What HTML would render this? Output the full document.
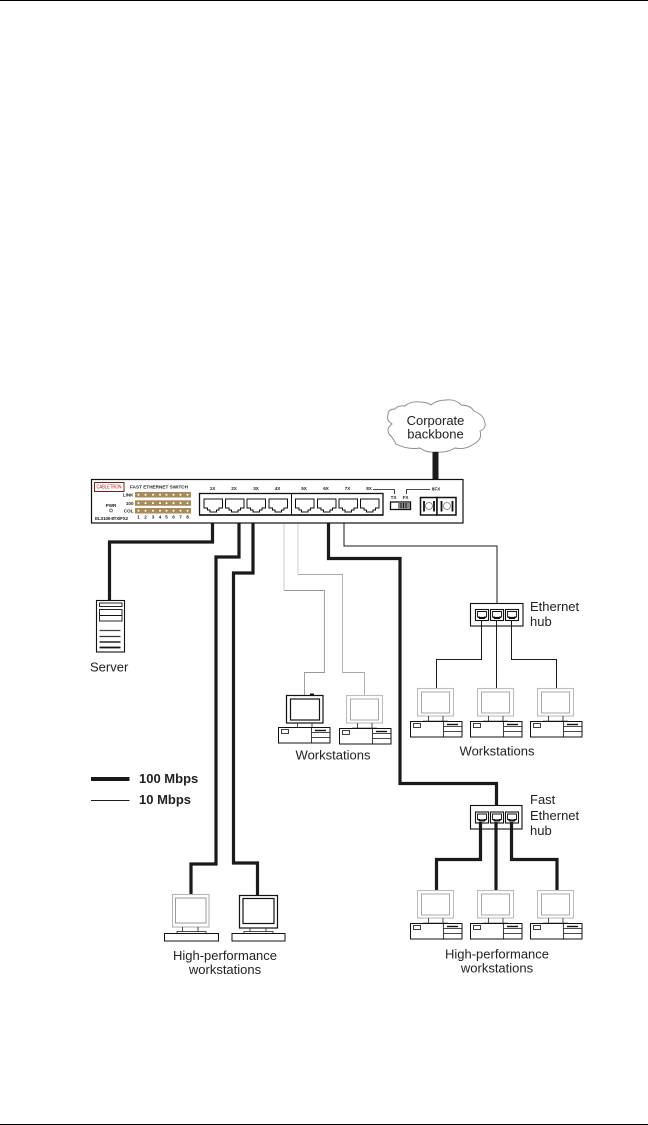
<!DOCTYPE html>
<html>
<head>
<meta charset="utf-8">
<style>
html,body{margin:0;padding:0;background:#fff;width:648px;height:1125px;overflow:hidden}
svg{display:block}
text{font-family:"Liberation Sans",sans-serif;fill:#222}
.l{font-size:13px}
.m{text-anchor:middle}
.t{font-size:4.6px;font-weight:bold;fill:#222}
.c{fill:none;stroke:#1a1a1a;stroke-width:3.2}
.n{fill:none;stroke:#1a1a1a;stroke-width:1}
</style>
</head>
<body>
<svg width="648" height="1125" viewBox="0 0 648 1125" xmlns="http://www.w3.org/2000/svg">
<defs>
  <g id="pc">
    <rect x="0.5" y="0.5" width="51.5" height="15.5" fill="#fff" stroke="#111" stroke-width="1"/>
    <path d="M33.5 0.5V16M33.5 10.5H52M33.5 5.5H52" fill="none" stroke="#111" stroke-width="0.8"/>
    <path d="M37 3.5H48" stroke="#111" stroke-width="1.4"/>
    <rect x="3.5" y="2.5" width="7" height="4" fill="#fff" stroke="#111" stroke-width="0.8"/>
  </g>
  <g id="stand">
    <path d="M11.5 28V33M26 28V33" stroke="#222" stroke-width="0.8"/>
    <path d="M6 33.5H31" stroke="#111" stroke-width="1.5"/>
  </g>
  <g id="wsG">
    <rect x="0.5" y="0.5" width="36" height="27.5" fill="#fff" stroke="#bdbdbd" stroke-width="1.1"/>
    <rect x="4.5" y="4" width="28" height="21" fill="#fff" stroke="#a8a8a8" stroke-width="1"/>
    <use href="#stand"/>
    <use href="#pc" x="-7" y="33"/>
  </g>
  <g id="hpG">
    <rect x="0.5" y="0.5" width="36.5" height="32.5" fill="#fff" stroke="#b5b5b5" stroke-width="1.1"/>
    <rect x="3.5" y="4" width="30.5" height="25" fill="#fff" stroke="#9a9a9a" stroke-width="1"/>
    <path d="M10.5 33V38M26 33V38" stroke="#222" stroke-width="0.8"/>
    <rect x="5" y="37.5" width="29" height="2" fill="#fff" stroke="#222" stroke-width="0.8"/>
    <rect x="-7.5" y="39.5" width="54" height="7.5" fill="#fff" stroke="#111" stroke-width="1"/>
  </g>
  <path id="rj" d="M0.5 0.5H19V9.5H15.5V11.5H13V13.5H6.5V11.5H4V9.5H0.5Z" fill="#fff" stroke="#111" stroke-width="1"/>
  <g id="hp">
    <rect x="0.5" y="0.5" width="13" height="11" fill="#fff" stroke="#111" stroke-width="1.1"/>
    <path d="M2.5 2.5H11.5V8H9.5V9.5H4.5V8H2.5Z" fill="#fff" stroke="#111" stroke-width="0.9"/>
    <path d="M3 8.5H11" stroke="#111" stroke-width="1.2"/>
  </g>
  <g id="strip">
    <rect x="135" y="0" width="56" height="5.5" fill="#a98a58"/>
    <g fill="#fff">
      <circle cx="138.5" cy="2.8" r="1"/><circle cx="145.5" cy="2.8" r="1"/><circle cx="153" cy="2.8" r="1"/><circle cx="160" cy="2.8" r="1"/><circle cx="166.5" cy="2.8" r="1"/><circle cx="173.5" cy="2.8" r="1"/><circle cx="180.5" cy="2.8" r="1"/><circle cx="187.5" cy="2.8" r="1"/>
    </g>
  </g>
</defs>

<rect x="0" y="0" width="648" height="1" fill="#000"/>
<rect x="0" y="1124" width="648" height="1" fill="#000"/>

<!-- cloud -->
<path d="M388 415Q388 409 395 409Q398 405 405 406Q410 401 420 402Q427 402 431 405Q437 400 446 400Q456 399 461 405Q470 405 474 411Q484 415 485 423Q486 429 480 431Q483 440 472 445Q465 450 455 448Q447 453 436 452Q426 453 420 448Q408 450 396 444Q393 438 389 434Q386 428 392 424Q386 420 388 415Z" fill="#fff" stroke="#888" stroke-width="0.9"/>
<text class="l m" x="435.5" y="425">Corporate</text>
<text class="l m" x="435.5" y="438.5">backbone</text>
<rect x="432.5" y="452" width="6" height="27" fill="#1a1a1a"/>

<!-- cables -->
<path class="c" d="M212.5 523V542H109.500V600"/>
<path class="c" d="M239 523V557H216V864H191V894"/>
<path class="c" d="M253 523V573H233.500V863H257.500V895"/>
<path class="c" d="M328.500 523V558.500H400V783.500H496.500V805"/>
<path class="n" d="M344 523V546H497V603"/>
<path d="M284 523V590" fill="none" stroke="#ddd" stroke-width="1.5"/>
<path d="M298 523V574" fill="none" stroke="#ddd" stroke-width="1.5"/>
<path d="M284 590.500H324.500V672.500H304.500V695" fill="none" stroke="#999" stroke-width="0.9"/>
<path d="M298 574.500H342.500V672.500H364.500V695" fill="none" stroke="#aaa" stroke-width="0.9"/>

<!-- switch -->
<rect x="91.500" y="479.500" width="371.500" height="43.500" fill="#fff" stroke="#111" stroke-width="1.2"/>
<rect x="94.500" y="482.500" width="29.500" height="9" fill="#fff" stroke="#7a1f1f" stroke-width="1"/>
<text x="109" y="488.500" text-anchor="middle" font-size="5.500" style="fill:#b02020" textLength="25" lengthAdjust="spacingAndGlyphs">CABLETRON</text>
<text class="t" x="130" y="488.500" textLength="58" lengthAdjust="spacing">FAST ETHERNET SWITCH</text>
<text class="t" x="133.500" y="496.500" text-anchor="end">LINK</text>
<text class="t" x="133.500" y="504.800" text-anchor="end">100</text>
<text class="t" x="133.500" y="512.500" text-anchor="end">COL</text>
<use href="#strip" y="492"/>
<use href="#strip" y="500.300"/>
<use href="#strip" y="508"/>
<g class="t" text-anchor="middle">
<text class="t" x="138.500" y="518.500" text-anchor="middle">1</text><text class="t" x="145.500" y="518.500" text-anchor="middle">2</text><text class="t" x="153" y="518.500" text-anchor="middle">3</text><text class="t" x="160" y="518.500" text-anchor="middle">4</text><text class="t" x="166.500" y="518.500" text-anchor="middle">5</text><text class="t" x="173.500" y="518.500" text-anchor="middle">6</text><text class="t" x="180.500" y="518.500" text-anchor="middle">7</text><text class="t" x="187.500" y="518.500" text-anchor="middle">8</text>
</g>
<text class="t" x="111" y="507" text-anchor="middle">PWR</text>
<circle cx="111" cy="510.500" r="1.400" fill="#fff" stroke="#333" stroke-width="0.6"/>
<text class="t" x="95" y="519.800" textLength="33" lengthAdjust="spacing">ELS100-8TX/FX2</text>

<text class="t" x="212.500" y="490" text-anchor="middle">1X</text><text class="t" x="234" y="490" text-anchor="middle">2X</text><text class="t" x="256" y="490" text-anchor="middle">3X</text><text class="t" x="277.500" y="490" text-anchor="middle">4X</text><text class="t" x="304" y="490" text-anchor="middle">5X</text><text class="t" x="326" y="490" text-anchor="middle">6X</text><text class="t" x="347.500" y="490" text-anchor="middle">7X</text><text class="t" x="369" y="490" text-anchor="middle">8X</text>

<rect x="199.500" y="493.500" width="183.500" height="21.500" fill="#fff" stroke="#111" stroke-width="1.300"/>
<path d="M199 515H383.500" stroke="#111" stroke-width="1.500"/>
<path d="M291.500 493V515" stroke="#111" stroke-width="1"/>
<use href="#rj" x="203.500" y="498.500"/><use href="#rj" x="225" y="498.500"/><use href="#rj" x="246.500" y="498.500"/><use href="#rj" x="268.500" y="498.500"/><use href="#rj" x="295" y="498.500"/><use href="#rj" x="317" y="498.500"/><use href="#rj" x="338.500" y="498.500"/><use href="#rj" x="360" y="498.500"/>

<path d="M373 489.500H394.500V494M406.500 494V489.500H430" fill="none" stroke="#111" stroke-width="0.8"/>
<text class="t" x="436" y="490.500" text-anchor="middle">8FX</text>
<text class="t" x="393.500" y="499" text-anchor="middle">TX</text>
<text class="t" x="405.500" y="499" text-anchor="middle">FX</text>
<rect x="390.500" y="502" width="20" height="7.500" fill="#fff" stroke="#111" stroke-width="1.300"/>
<rect x="398" y="503" width="12" height="5.500" fill="#888"/>
<path d="M401 503V508.500M403.500 503V508.500M406 503V508.500" stroke="#111" stroke-width="0.9"/>
<rect x="420.500" y="497.500" width="16.500" height="17.500" fill="#fff" stroke="#111" stroke-width="1.500"/>
<rect x="437" y="497.500" width="19" height="17.500" fill="#fff" stroke="#111" stroke-width="1.500"/>
<path d="M424 501V511.500M434 501V511.500M441.500 501V511.500M452.500 501V511.500" stroke="#111" stroke-width="1.800"/>
<circle cx="429" cy="506" r="3.500" fill="#fff" stroke="#777" stroke-width="0.8"/>
<circle cx="447" cy="506" r="3.500" fill="#fff" stroke="#777" stroke-width="0.8"/>

<!-- server -->
<rect x="96.500" y="600.500" width="28" height="51.500" fill="#fff" stroke="#111" stroke-width="1.100"/>
<rect x="99.500" y="603" width="22.500" height="3.500" fill="#fff" stroke="#111" stroke-width="0.9"/>
<rect x="99.500" y="609.500" width="22.500" height="11.500" fill="#fff" stroke="#111" stroke-width="0.9"/>
<path d="M99.500 615.500H122" stroke="#111" stroke-width="0.9"/>
<path d="M99.500 630.500H120.500" stroke="#444" stroke-width="1.200"/>
<path d="M99.500 636.500H120.500" stroke="#333" stroke-width="1.300"/>
<path d="M99.500 642H120.500" stroke="#222" stroke-width="1.500"/>
<path d="M99.500 647.500H120.500" stroke="#111" stroke-width="1.700"/>
<text class="l" x="90" y="671.500">Server</text>

<!-- Ethernet hub -->
<rect x="470.500" y="603.500" width="52.500" height="22.500" fill="#fff" stroke="#111" stroke-width="1.100"/>
<use href="#hp" x="475" y="609"/><use href="#hp" x="490" y="609"/><use href="#hp" x="505" y="609"/>
<path class="n" d="M481.500 620V659.500H436.500V688M496.500 620V688M511.500 620V659.500H556.500V688"/>
<text class="l" x="530" y="611">Ethernet</text>
<text class="l" x="530" y="626">hub</text>

<!-- workstations hub -->
<use href="#wsG" x="417" y="688"/><use href="#wsG" x="477" y="688"/><use href="#wsG" x="537" y="688"/>
<text class="l m" x="497" y="755.500">Workstations</text>

<!-- workstations mid -->
<g transform="translate(286,695)">
  <rect x="0.500" y="0.500" width="36.500" height="27.500" fill="#fff" stroke="#111" stroke-width="1.200"/>
  <rect x="4.500" y="4" width="29" height="21" fill="#fff" stroke="#111" stroke-width="1.200"/>
  <rect x="24" y="-1.500" width="4" height="2" fill="#111"/>
  <use href="#stand"/>
  <use href="#pc" x="-8" y="32"/>
</g>
<g transform="translate(346,695)"><use href="#wsG"/></g>
<text class="l m" x="333" y="759.500">Workstations</text>

<!-- legend -->
<rect x="91" y="777" width="38.500" height="4" fill="#1a1a1a"/>
<rect x="91" y="800" width="38.500" height="1" fill="#1a1a1a"/>
<text x="139" y="783" font-size="13" font-weight="bold">100 Mbps</text>
<text x="139" y="804" font-size="13" font-weight="bold">10 Mbps</text>

<!-- Fast Ethernet hub -->
<rect x="470.500" y="805.500" width="51.500" height="23.500" fill="#fff" stroke="#111" stroke-width="1.100"/>
<use href="#hp" x="475" y="811.500"/><use href="#hp" x="490" y="811.500"/><use href="#hp" x="505" y="811.500"/>
<path class="c" d="M480.500 822V859.500H436.500V890M496 822V890M511.500 822V859.500H557V890"/>
<text class="l" x="530" y="804">Fast</text>
<text class="l" x="530" y="820">Ethernet</text>
<text class="l" x="530" y="835">hub</text>

<use href="#wsG" x="417" y="890"/><use href="#wsG" x="477" y="890"/><use href="#wsG" x="537" y="890"/>
<text class="l m" x="497" y="958.500">High-performance</text>
<text class="l m" x="497" y="972.500">workstations</text>

<!-- high performance left -->
<use href="#hpG" x="172" y="894"/>
<g transform="translate(239,895)">
  <rect x="0.500" y="0.500" width="38" height="32.500" fill="#fff" stroke="#111" stroke-width="1.200"/>
  <rect x="4" y="3.500" width="31" height="25" fill="#fff" stroke="#111" stroke-width="1.200"/>
  <path d="M11 33V37M27 33V37" stroke="#222" stroke-width="0.8"/>
  <rect x="5" y="36.500" width="29" height="2" fill="#fff" stroke="#222" stroke-width="0.8"/>
  <rect x="-7" y="38.500" width="53" height="7.500" fill="#fff" stroke="#111" stroke-width="1"/>
</g>
<text class="l m" x="225" y="960">High-performance</text>
<text class="l m" x="225" y="974">workstations</text>
</svg>
</body>
</html>
